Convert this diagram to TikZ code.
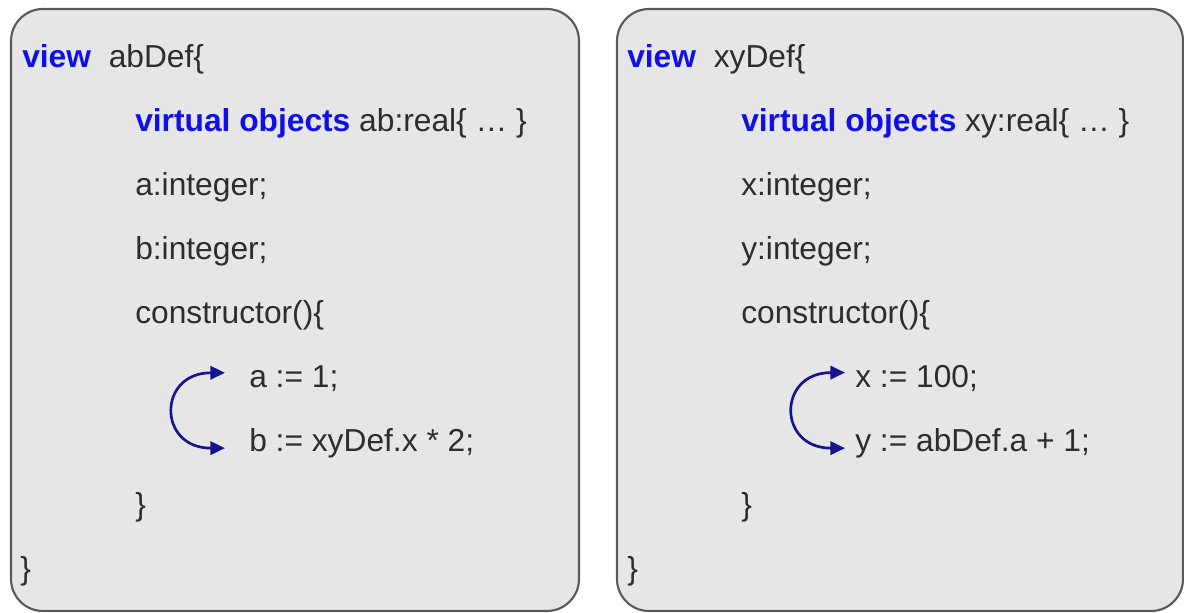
\documentclass[tikz,border=0pt]{standalone}
\usepackage{fontspec}
\setmainfont{Liberation Sans}
\usetikzlibrary{arrows.meta}
\definecolor{kw}{RGB}{16,16,230}
\definecolor{txt}{RGB}{45,45,45}
\definecolor{boxfill}{RGB}{230,230,230}
\definecolor{boxline}{RGB}{90,90,90}
\definecolor{arrowblue}{RGB}{20,20,140}
\begin{document}
\begin{tikzpicture}[x=0.75pt,y=-0.75pt,
  viewbox/.style={draw=boxline,fill=boxfill,line width=1.6pt,rounded corners=24pt},
  code/.style={anchor=base west,inner sep=0pt,text=txt,font=\fontsize{23.8}{28}\selectfont},
  arr/.style={draw=arrowblue,line width=2pt,{Triangle[length=11pt,width=10pt]}-{Triangle[length=11pt,width=10pt]}}]
\useasboundingbox (0,0) rectangle (1184,612);
\newcommand{\kwd}[1]{\textcolor{kw}{\textbf{#1}}}
% boxes
\path[viewbox] (11,9) rectangle (579,611);
\path[viewbox] (617,9) rectangle (1183,611);
% left box
\node[code] (l0) at (22,67) {\kwd{view}\ \ abDef\{};
\node[code] (l1) at (135,131) {\kwd{virtual objects} ab:real\{ … \}};
\node[code] (l2) at (135,195) {a:integer;};
\node[code] (l3) at (135,259) {b:integer;};
\node[code] (l4) at (135,323) {constructor()\{};
\node[code] (la1) at (249,387) {a := 1;};
\node[code] (la2) at (249,451) {b := xyDef.x * 2;};
\node[code] (l7) at (135,515) {\}};
\node[code] (l8) at (20,579) {\}};
\draw[arr] ([xshift=-18pt,yshift=4pt]la1.west) to[out=180,in=180,looseness=2.3] ([xshift=-18pt,yshift=-4pt]la2.west);
% right box
\node[code] (r0) at (627,67) {\kwd{view}\ \ xyDef\{};
\node[code] (r1) at (741,131) {\kwd{virtual objects} xy:real\{ … \}};
\node[code] (r2) at (741,195) {x:integer;};
\node[code] (r3) at (741,259) {y:integer;};
\node[code] (r4) at (741,323) {constructor()\{};
\node[code] (ra1) at (855,387) {x := 100;};
\node[code] (ra2) at (855,451) {y := abDef.a + 1;};
\node[code] (r7) at (741,515) {\}};
\node[code] (r8) at (627,579) {\}};
\draw[arr] ([xshift=-7.5pt,yshift=4pt]ra1.west) to[out=180,in=180,looseness=2.3] ([xshift=-7.5pt,yshift=-4pt]ra2.west);
\end{tikzpicture}
\end{document}
